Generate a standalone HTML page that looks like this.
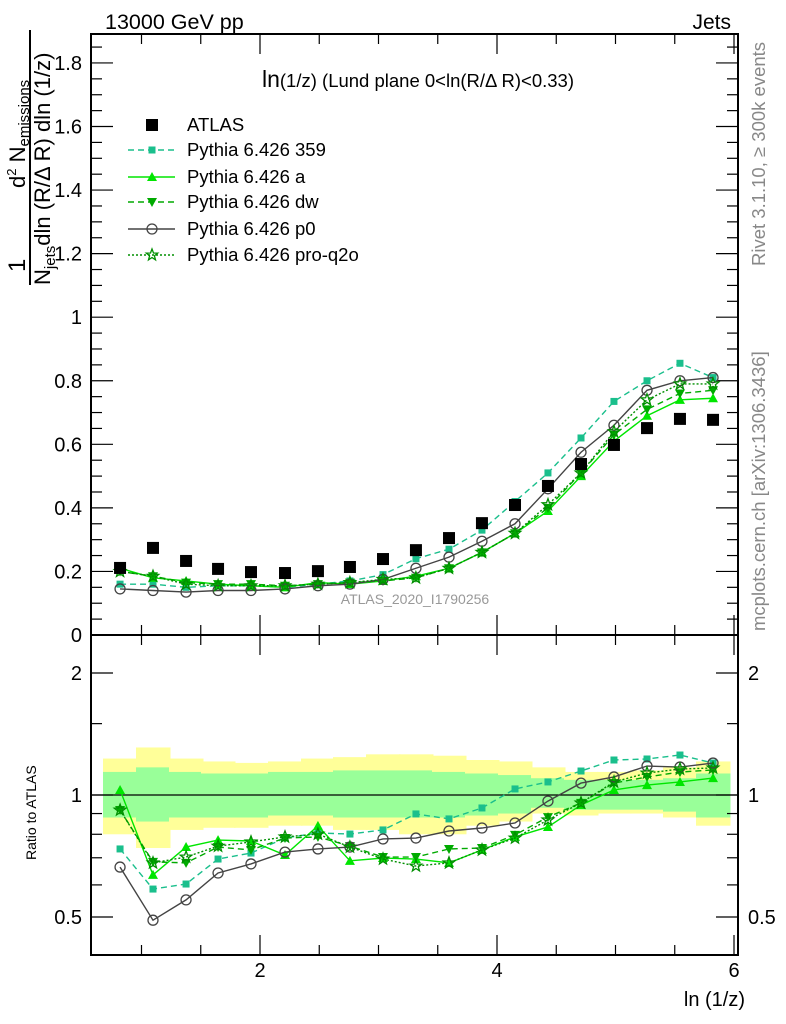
<!DOCTYPE html>
<html><head><meta charset="utf-8"><style>
html,body{margin:0;padding:0;background:#fff;}
svg{display:block;font-family:"Liberation Sans",sans-serif;}
</style></head><body>
<svg id="chart" width="786" height="1024" viewBox="0 0 786 1024" xmlns="http://www.w3.org/2000/svg">
<g id="bands"></g>
<g id="axes"></g>
<g id="series"></g>
<text x="105" y="29" font-size="21.5">13000 GeV pp</text>
<text x="731" y="29" font-size="21" text-anchor="end">Jets</text>
<text x="418" y="87" font-size="18.5" text-anchor="middle"><tspan font-size="23">ln</tspan>(1/z) (Lund plane 0&lt;ln(R/Δ R)&lt;0.33)</text>
<text x="415" y="604" font-size="14" fill="#999" text-anchor="middle">ATLAS_2020_I1790256</text>
<text transform="translate(765,266) rotate(-90)" font-size="18.5" fill="#888">Rivet 3.1.10, ≥ 300k events</text>
<text transform="translate(765,631) rotate(-90)" font-size="18.5" fill="#888">mcplots.cern.ch [arXiv:1306.3436]</text>
<g>
<text transform="translate(25,272) rotate(-90)" font-size="24">1</text>
<line x1="30" y1="285" x2="30" y2="30" stroke="#000" stroke-width="2"/>
<text transform="translate(25,188) rotate(-90)" font-size="22">d<tspan font-size="13" dy="-9">2</tspan><tspan dy="9"> N</tspan><tspan font-size="15" dy="4">emissions</tspan></text>
<text transform="translate(50,285) rotate(-90)" font-size="22">N<tspan font-size="15" dy="5">jets</tspan><tspan dy="-5">dln (R/Δ R) dln (1/z)</tspan></text>
</g>
<text transform="translate(36,860) rotate(-90)" font-size="14">Ratio to ATLAS</text>
<text x="745" y="1006" font-size="20" text-anchor="end">ln (1/z)</text>
<g id="legend"></g>
</svg>
<script>
const xCenters=[0.819,1.097,1.376,1.646,1.924,2.211,2.489,2.759,3.038,3.316,3.595,3.873,4.152,4.430,4.709,4.987,5.266,5.544,5.823];
const binHalf=0.139;
const atlas=[0.211,0.274,0.233,0.208,0.198,0.195,0.201,0.214,0.239,0.267,0.305,0.352,0.409,0.469,0.538,0.598,0.651,0.680,0.677];
const py359=[0.16,0.16,0.15,0.155,0.155,0.15,0.16,0.17,0.19,0.24,0.27,0.33,0.42,0.51,0.62,0.735,0.80,0.855,0.81];
const pyA=[0.21,0.18,0.17,0.16,0.155,0.15,0.165,0.16,0.17,0.185,0.21,0.26,0.32,0.39,0.50,0.61,0.69,0.74,0.745];
const pyDW=[0.20,0.185,0.165,0.16,0.16,0.155,0.16,0.165,0.17,0.18,0.21,0.26,0.32,0.40,0.51,0.63,0.71,0.76,0.77];
const pyP0=[0.145,0.14,0.135,0.14,0.14,0.145,0.155,0.16,0.175,0.21,0.245,0.295,0.35,0.46,0.575,0.66,0.77,0.80,0.81];
const pyQ2O=[0.20,0.185,0.16,0.155,0.155,0.155,0.16,0.165,0.175,0.18,0.21,0.26,0.32,0.41,0.51,0.64,0.74,0.79,0.79];
const r359=[0.736,0.586,0.603,0.695,0.719,0.783,0.806,0.801,0.820,0.898,0.873,0.929,1.035,1.077,1.146,1.220,1.227,1.255,1.199];
const rA=[1.029,0.635,0.744,0.774,0.770,0.711,0.839,0.688,0.699,0.695,0.680,0.732,0.788,0.834,0.945,1.029,1.058,1.077,1.101];
const rDW=[0.918,0.684,0.680,0.744,0.732,0.783,0.788,0.748,0.703,0.703,0.736,0.740,0.797,0.882,0.956,1.070,1.108,1.139,1.153];
const rP0=[0.664,0.491,0.551,0.642,0.676,0.723,0.736,0.744,0.779,0.783,0.815,0.829,0.853,0.966,1.070,1.108,1.179,1.172,1.199];
const rQ2O=[0.918,0.680,0.703,0.748,0.766,0.788,0.801,0.744,0.695,0.668,0.680,0.732,0.783,0.868,0.956,1.077,1.133,1.159,1.166];
const yellowUp=[1.23,1.31,1.23,1.21,1.20,1.21,1.23,1.24,1.26,1.26,1.25,1.22,1.21,1.17,1.14,1.14,1.15,1.17,1.21];
const yellowDn=[0.80,0.74,0.82,0.83,0.83,0.84,0.84,0.82,0.82,0.80,0.80,0.84,0.86,0.90,0.89,0.90,0.90,0.88,0.84];
const greenUp=[1.14,1.17,1.14,1.13,1.13,1.14,1.14,1.15,1.15,1.15,1.14,1.13,1.12,1.10,1.09,1.09,1.09,1.10,1.13];
const greenDn=[0.88,0.86,0.88,0.88,0.88,0.89,0.89,0.88,0.88,0.88,0.88,0.89,0.90,0.93,0.92,0.92,0.92,0.91,0.88];
const mainTicks=[0,0.2,0.4,0.6,0.8,1,1.2,1.4,1.6,1.8];
const mainTickLabels=["0","0.2","0.4","0.6","0.8","1","1.2","1.4","1.6","1.8"];
const ratioTicks=[0.5,1,2];
const ratioTickLabels=["0.5","1","2"];
const xTicks=[2,4,6];
const xTickLabels=["2","4","6"];

const NS="http://www.w3.org/2000/svg";
const L=91,R=738,MT=34,MB=635,RT=635,RB=955;
const X=v=>23+118.5*v;
const Y=v=>635-317.8*v;
const YR=v=>795-122*Math.log2(v);
function mk(tag,attrs,parent){const e=document.createElementNS(NS,tag);for(const k in attrs)e.setAttribute(k,attrs[k]);parent.appendChild(e);return e;}
const axes=document.getElementById('axes'),bands=document.getElementById('bands'),ser=document.getElementById('series'),leg=document.getElementById('legend');

xCenters.forEach((c,i)=>{
 const x0=Math.floor(X(c-binHalf)),x1=Math.ceil(X(c+binHalf))+0.5;
 const y=mk('rect',{x:x0,y:YR(yellowUp[i]),width:x1-x0,height:YR(yellowDn[i])-YR(yellowUp[i]),fill:'#ffff99'},bands);
 
 
 const g=mk('rect',{x:x0,y:YR(greenUp[i]),width:x1-x0,height:YR(greenDn[i])-YR(greenUp[i]),fill:'#99ff99'},bands);
 
 
});

const f1=mk('rect',{x:L,y:MT,width:R-L,height:MB-MT,fill:'none',stroke:'#000','stroke-width':2},axes);


const f2=mk('rect',{x:L,y:RT,width:R-L,height:RB-RT,fill:'none',stroke:'#000','stroke-width':2},axes);


const one=mk('line',{x1:L,x2:R,y1:YR(1),y2:YR(1),stroke:'#000','stroke-width':1.2},axes);



for(let v=0;v<=1.86;v+=0.05){
 const major=Math.abs(v/0.2-Math.round(v/0.2))<1e-6;const len=major?22:11;
 mk('line',{x1:L,x2:L+len,y1:Y(v),y2:Y(v),stroke:'#000','stroke-width':1.2},axes);
 mk('line',{x1:R-len,x2:R,y1:Y(v),y2:Y(v),stroke:'#000','stroke-width':1.2},axes);
}
mainTicks.forEach((v,i)=>{
 const t=mk('text',{x:82,y:Y(v)+7,'font-size':20,'text-anchor':'end'},axes);t.textContent=mainTickLabels[i];
 
 
});
[0.5,0.6,0.7,0.8,0.9,1,1.5,2].forEach(v=>{
 const y=YR(v);if(y<RT||y>RB)return;const major=ratioTicks.includes(v);const len=major?22:11;
 mk('line',{x1:L,x2:L+len,y1:y,y2:y,stroke:'#000','stroke-width':1.2},axes);
 mk('line',{x1:R-len,x2:R,y1:y,y2:y,stroke:'#000','stroke-width':1.2},axes);
});
ratioTicks.forEach((v,i)=>{
 const t=mk('text',{x:82,y:YR(v)+7,'font-size':20,'text-anchor':'end'},axes);t.textContent=ratioTickLabels[i];
 
 
 const t2=mk('text',{x:748,y:YR(v)+7,'font-size':20},axes);t2.textContent=ratioTickLabels[i];
 
 
});
for(let v=1;v<=6.01;v+=0.5){
 const x=X(v);if(x<L||x>R)continue;const major=xTicks.includes(v);const len=major?20:10;
 [[MT,MT+len],[MB-len,MB],[RT,RT+len],[RB-len,RB]].forEach(p=>mk('line',{x1:x,x2:x,y1:p[0],y2:p[1],stroke:'#000','stroke-width':1.2},axes));
}
xTicks.forEach((v,i)=>{
 const t=mk('text',{x:X(v),y:977,'font-size':20,'text-anchor':'middle'},axes);t.textContent=xTickLabels[i];
 
 
});

function marker(type,x,y,color,parent){
 let e;
 if(type==='bigsquare')e=mk('rect',{x:x-6,y:y-6,width:12,height:12,fill:'#000'},parent);
 else if(type==='square')e=mk('rect',{x:x-3.5,y:y-3.5,width:7,height:7,fill:color},parent);
 else if(type==='up')e=mk('polygon',{points:`${x},${y-5} ${x-5},${y+4} ${x+5},${y+4}`,fill:color},parent);
 else if(type==='down')e=mk('polygon',{points:`${x},${y+5} ${x-5},${y-4} ${x+5},${y-4}`,fill:color},parent);
 else if(type==='circle')e=mk('circle',{cx:x,cy:y,r:5,fill:'none',stroke:color,'stroke-width':1.3},parent);
 else{let p=[];for(let k=0;k<10;k++){const r=k%2?2.5:6;const a=-Math.PI/2+k*Math.PI/5;p.push((x+r*Math.cos(a)).toFixed(1)+','+(y+r*Math.sin(a)).toFixed(1));}
  e=mk('polygon',{points:p.join(' '),fill:'none',stroke:color,'stroke-width':1.3},parent);}
 return e;
}
const series=[
 {name:'Pythia 6.426 359',main:py359,ratio:r359,color:'#1abf8c',dash:'6,4',m:'square',key:'pythia-359'},
 {name:'Pythia 6.426 a',main:pyA,ratio:rA,color:'#00e600',dash:'',m:'up',key:'pythia-a'},
 {name:'Pythia 6.426 dw',main:pyDW,ratio:rDW,color:'#00aa00',dash:'6,4',m:'down',key:'pythia-dw'},
 {name:'Pythia 6.426 p0',main:pyP0,ratio:rP0,color:'#444444',dash:'',m:'circle',key:'pythia-p0'},
 {name:'Pythia 6.426 pro-q2o',main:pyQ2O,ratio:rQ2O,color:'#008f00',dash:'2,2',m:'star',key:'pythia-pro-q2o'}
];
series.forEach(s=>{
 [[s.main,Y,'main'],[s.ratio,YR,'ratio']].forEach(([arr,fy,pan])=>{
  const g=mk('g',{},ser);
  
  
  const pl=mk('polyline',{points:arr.map((v,i)=>X(xCenters[i])+','+fy(v)).join(' '),fill:'none',stroke:s.color,'stroke-width':1.4,'stroke-dasharray':s.dash},g);
  
  
  arr.forEach((v,i)=>{const m=marker(s.m,X(xCenters[i]),fy(v),s.color,g);
   
   });
 });
});
atlas.forEach((v,i)=>{const m=marker('bigsquare',X(xCenters[i]),Y(v),'#000',ser);
 
 });

const rowsY=[125,150,177,202,229,255];
{const g=mk('g',{},leg);
 
 
 marker('bigsquare',152,rowsY[0],'#000',g);
 const t=mk('text',{x:187,y:rowsY[0]+6,'font-size':18.5},g);t.textContent='ATLAS';}
series.forEach((s,i)=>{
 const y=rowsY[i+1];const g=mk('g',{},leg);
 
 
 mk('line',{x1:128,x2:175,y1:y,y2:y,stroke:s.color,'stroke-width':1.4,'stroke-dasharray':s.dash},g);
 marker(s.m,152,y,s.color,g);
 const t=mk('text',{x:187,y:y+6,'font-size':18.5},g);t.textContent=s.name;
});
</script>
</body></html>
